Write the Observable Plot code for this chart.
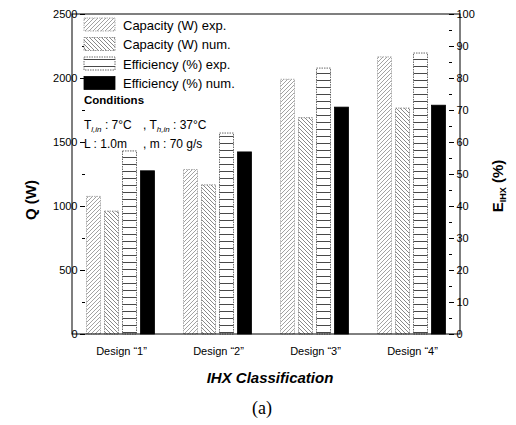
<!DOCTYPE html>
<html><head><meta charset="utf-8">
<script src="https://cdn.jsdelivr.net/npm/d3@7"></script>
<script src="https://cdn.jsdelivr.net/npm/@observablehq/plot@0.6"></script>
<style>
body{margin:0;background:#fff;font-family:"Liberation Sans",Arial,sans-serif;}
#wrap{width:516px;}
#cap{font-family:"Liberation Serif","DejaVu Serif",serif;font-size:18px;text-align:center;width:516px;margin-top:8px;line-height:21px;padding-left:8px;box-sizing:border-box;}
</style></head><body>
<div id="wrap"></div>
<div id="cap">(a)</div>
<script>
// ---- data ----
const designs = ["Design “1”", "Design “2”", "Design “3”", "Design “4”"];
const series = ["Capacity (W) exp.", "Capacity (W) num.", "Efficiency (%) exp.", "Efficiency (%) num."];
const capacityExp = [1075, 1285, 1990, 2165];   // W
const capacityNum = [960, 1165, 1690, 1765];    // W
const efficiencyExp = [57.2, 62.8, 83.1, 87.8]; // %
const efficiencyNum = [51.0, 56.9, 70.9, 71.5]; // %
const leftTicks = [0, 500, 1000, 1500, 2000, 2500];
const leftMinor = [250, 750, 1250, 1750, 2250];
const rightTicks = [0, 10, 20, 30, 40, 50, 60, 70, 80, 90, 100];
const rightMinor = [5, 15, 25, 35, 45, 55, 65, 75, 85, 95];
const qMax = 2500, eMax = 100;

// ---- styles ----
const fills = ["url(#pCapExp)", "url(#pCapNum)", "url(#pEffExp)", "#000"];
const strokes = ["#999", "#777", "#444", "#000"];
const k = qMax / eMax; // efficiency (%) -> shared W-scale

const rows = [];
designs.forEach((d, i) => {
  rows.push({design: d, series: series[0], value: capacityExp[i], y: capacityExp[i]});
  rows.push({design: d, series: series[1], value: capacityNum[i], y: capacityNum[i]});
  rows.push({design: d, series: series[2], value: efficiencyExp[i], y: efficiencyExp[i] * k});
  rows.push({design: d, series: series[3], value: efficiencyNum[i], y: efficiencyNum[i] * k});
});

const W = 516, H = 390, mT = 14, mB = 56, mL = 72, mR = 56;
const svg = Plot.plot({
  width: W, height: H,
  marginTop: mT, marginBottom: mB, marginLeft: mL, marginRight: mR,
  style: {fontFamily: "'Liberation Sans', Arial, sans-serif", fontSize: "11px", color: "#000", background: "#fff"},
  fx: {domain: designs, paddingInner: 0.26, paddingOuter: 0.13, label: null},
  x: {domain: series, axis: null, paddingInner: 0.16, paddingOuter: 0},
  y: {domain: [0, qMax], axis: null},
  marks: [
    ...series.map((s, j) => Plot.barY(rows.filter(r => r.series === s), {
      fx: "design", x: "series", y: "y", fill: fills[j], stroke: strokes[j],
      strokeWidth: 0.8, strokeDasharray: j < 3 ? "1.5,1" : null, insetLeft: 0.5, insetRight: 0.5
    })),
    Plot.axisY({ticks: leftTicks, tickFormat: d => String(d), tickSize: 5, tickPadding: 3, label: null, fontSize: 11}),
    Plot.axisY({ticks: leftMinor, tickSize: 3, tickFormat: () => "", label: null}),
    Plot.axisY({anchor: "right", ticks: rightTicks.map(v => v * k), tickFormat: d => String(d / k), tickSize: 5, tickPadding: 3, label: null, fontSize: 11}),
    Plot.axisY({anchor: "right", ticks: rightMinor.map(v => v * k), tickSize: 3, tickFormat: () => "", label: null}),
    Plot.axisFx({anchor: "bottom", tickSize: 0, tickPadding: 13, label: null, fontSize: 11})
  ]
});

const S = d3.select(svg);
const defs = S.insert("defs", ":first-child");
function pat(id, w, h, path, col, sw) {
  const p = defs.append("pattern").attr("id", id).attr("patternUnits", "userSpaceOnUse").attr("width", w).attr("height", h);
  p.append("rect").attr("width", w).attr("height", h).attr("fill", "#fff");
  p.append("path").attr("d", path).attr("stroke", col).attr("stroke-width", sw).attr("fill", "none");
}
pat("pCapExp", 4, 4, "M-1,1 l2,-2 M0,4 l4,-4 M3,5 l2,-2", "#8a8a8a", 0.8);
pat("pCapNum", 4, 4, "M-1,3 l2,2 M0,0 l4,4 M3,-1 l2,2", "#6a6a6a", 0.8);
pat("pEffExp", 6, 7, "M0,3.5 H6", "#333", 0.9);

// plot frame (box around the plotting area)
S.append("rect").attr("x", mL).attr("y", mT).attr("width", W - mL - mR).attr("height", H - mT - mB)
  .attr("fill", "none").attr("stroke", "#000").attr("stroke-width", 1);

// legend
const lg = S.append("g").attr("font-family", "'Liberation Sans', Arial, sans-serif").attr("text-anchor", "start");
series.forEach((s, j) => {
  const y0 = 18 + j * 19.5;
  lg.append("rect").attr("x", 84).attr("y", y0).attr("width", 31).attr("height", 13)
    .attr("fill", fills[j]).attr("stroke", strokes[j]).attr("stroke-width", 0.8).attr("stroke-dasharray", j < 3 ? "1.5,1" : null);
  lg.append("text").attr("x", 123).attr("y", y0 + 11.5).attr("font-size", 13).text(s);
});
lg.append("text").attr("x", 84).attr("y", 104).attr("font-size", 11.5).attr("font-weight", "bold").text("Conditions");
const t1 = lg.append("text").attr("x", 84).attr("y", 129).attr("font-size", 12);
t1.append("tspan").text("T");
t1.append("tspan").attr("font-size", 8).attr("font-style", "italic").attr("dy", 3).text("l,in");
t1.append("tspan").attr("dy", -3).text(" : 7°C");
t1.append("tspan").attr("x", 143).text(", T");
t1.append("tspan").attr("font-size", 8).attr("font-style", "italic").attr("dy", 3).text("h,in");
t1.append("tspan").attr("dy", -3).text(" : 37°C");
const t2 = lg.append("text").attr("x", 84).attr("y", 148).attr("font-size", 12);
t2.append("tspan").text("L : 1.0m");
t2.append("tspan").attr("x", 143).text(", m : 70 g/s");

// axis titles
S.append("text").attr("transform", "translate(36,200) rotate(-90)").attr("text-anchor", "middle")
  .attr("font-size", 15).attr("font-weight", "bold").attr("font-family", "'Liberation Sans', Arial, sans-serif").text("Q (W)");
const et = S.append("text").attr("transform", "translate(503,186) rotate(-90)").attr("text-anchor", "middle")
  .attr("font-size", 15).attr("font-weight", "bold").attr("font-family", "'Liberation Sans', Arial, sans-serif");
et.append("tspan").text("E");
et.append("tspan").attr("font-size", 9).attr("dy", 3).text("IHX");
et.append("tspan").attr("dy", -3).text(" (%)");
S.append("text").attr("x", 270).attr("y", 383).attr("text-anchor", "middle").attr("font-size", 15)
  .attr("font-weight", "bold").attr("font-style", "italic").attr("font-family", "'Liberation Sans', Arial, sans-serif").text("IHX Classification");

document.getElementById("wrap").appendChild(svg);
</script>
</body></html>
